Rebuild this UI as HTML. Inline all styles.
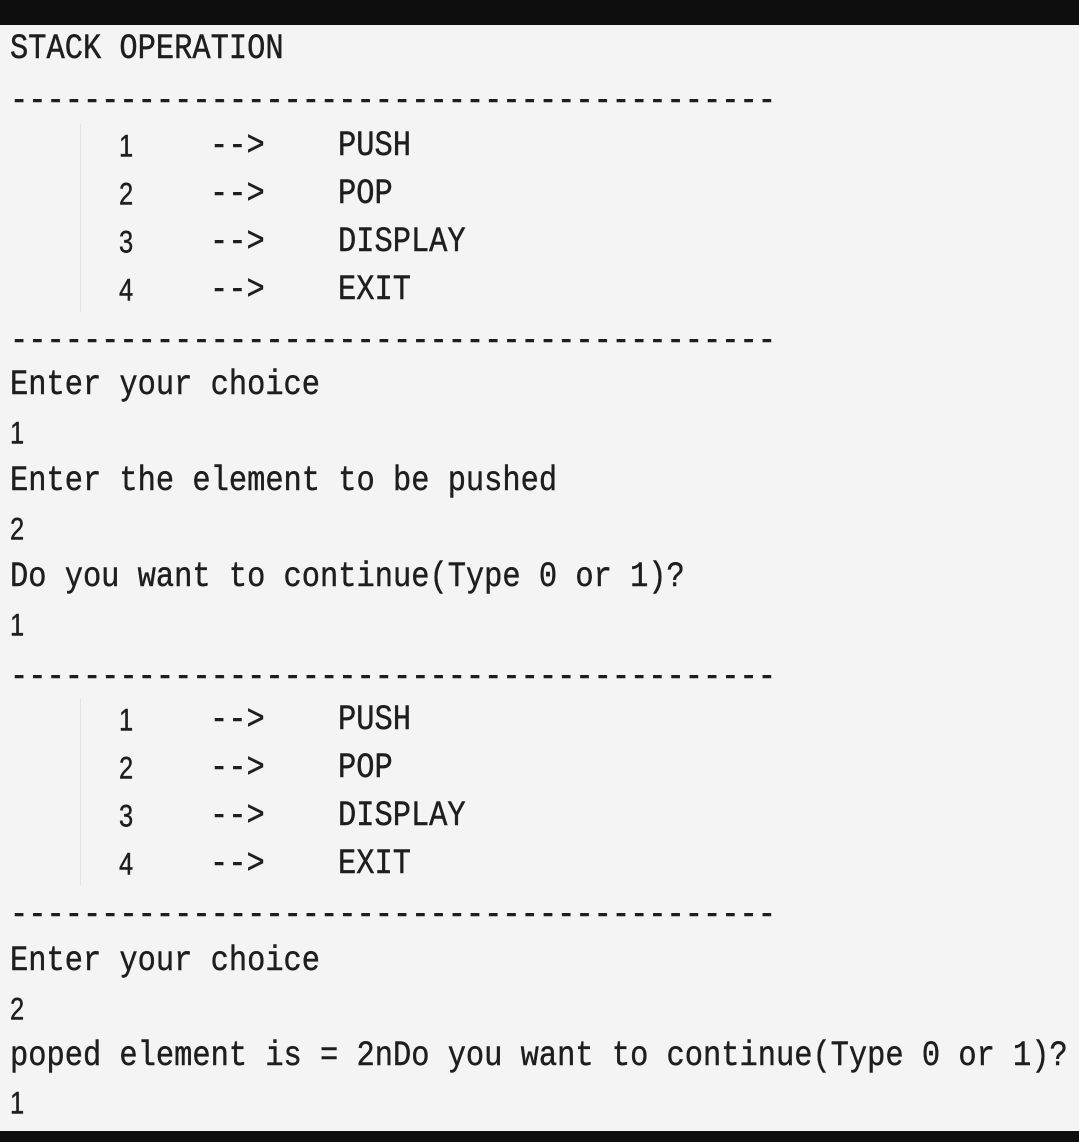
<!DOCTYPE html>
<html><head><style>
html,body{margin:0;padding:0}
body{width:1079px;height:1142px;background:#f4f4f4;position:relative;overflow:hidden;color:#1e1e1e}
.t{position:absolute;height:48px;line-height:48px;font-family:"Liberation Mono",monospace;font-size:30.4px;white-space:pre;transform:scaleY(1.15);transform-origin:left center;-webkit-text-stroke:0.4px #1e1e1e}
.s{font-family:"Liberation Sans",sans-serif;font-size:30px;transform:scaleX(0.85) scaleY(1.05)}
.bar{position:absolute;left:0;width:1079px;background:#0e0e0e}
.v{position:absolute;left:80px;width:1px;background:#e4e4e4}
</style></head><body>
<div class="bar" style="top:0;height:25px"></div>
<div class="bar" style="top:1131px;height:11px"></div>
<div class="t" style="left:10px;top:26px">STACK OPERATION</div>
<div class="t" style="left:10px;top:78px">------------------------------------------</div>
<div class="v" style="top:124px;height:188px"></div>
<div class="t s" style="left:119px;top:123px">1</div><div class="t" style="left:210px;top:123px">--&gt;</div><div class="t" style="left:338px;top:123px">PUSH</div>
<div class="t s" style="left:119px;top:171px">2</div><div class="t" style="left:210px;top:171px">--&gt;</div><div class="t" style="left:338px;top:171px">POP</div>
<div class="t s" style="left:119px;top:219px">3</div><div class="t" style="left:210px;top:219px">--&gt;</div><div class="t" style="left:338px;top:219px">DISPLAY</div>
<div class="t s" style="left:119px;top:267px">4</div><div class="t" style="left:210px;top:267px">--&gt;</div><div class="t" style="left:338px;top:267px">EXIT</div>
<div class="t" style="left:10px;top:318px">------------------------------------------</div>
<div class="t" style="left:10px;top:362px">Enter your choice</div>
<div class="t s" style="left:10px;top:410px">1</div>
<div class="t" style="left:10px;top:458px">Enter the element to be pushed</div>
<div class="t s" style="left:10px;top:506px">2</div>
<div class="t" style="left:10px;top:554px">Do you want to continue(Type 0 or 1)?</div>
<div class="t s" style="left:10px;top:602px">1</div>
<div class="t" style="left:10px;top:654px">------------------------------------------</div>
<div class="v" style="top:698px;height:188px"></div>
<div class="t s" style="left:119px;top:697px">1</div><div class="t" style="left:210px;top:697px">--&gt;</div><div class="t" style="left:338px;top:697px">PUSH</div>
<div class="t s" style="left:119px;top:745px">2</div><div class="t" style="left:210px;top:745px">--&gt;</div><div class="t" style="left:338px;top:745px">POP</div>
<div class="t s" style="left:119px;top:793px">3</div><div class="t" style="left:210px;top:793px">--&gt;</div><div class="t" style="left:338px;top:793px">DISPLAY</div>
<div class="t s" style="left:119px;top:841px">4</div><div class="t" style="left:210px;top:841px">--&gt;</div><div class="t" style="left:338px;top:841px">EXIT</div>
<div class="t" style="left:10px;top:892px">------------------------------------------</div>
<div class="t" style="left:10px;top:938px">Enter your choice</div>
<div class="t s" style="left:10px;top:986px">2</div>
<div class="t" style="left:10px;top:1033px">poped element is = 2nDo you want to continue(Type 0 or 1)?</div>
<div class="t s" style="left:10px;top:1080px">1</div>
</body></html>
